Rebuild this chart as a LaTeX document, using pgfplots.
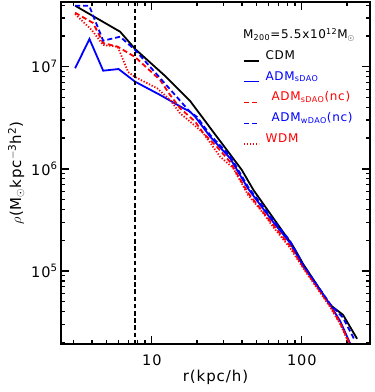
\documentclass[border=0pt]{standalone}
\usepackage{fontspec}
\setmainfont{DejaVu Sans}[LetterSpace=6]
\usepackage{pgfplots}
\pgfplotsset{compat=1.18}
\usetikzlibrary{calc}

\begin{document}
\begin{tikzpicture}
\begin{axis}[
    scale only axis,
    width=309pt, height=342pt,
    xmode=log, ymode=log,
    xmin=2.48, xmax=285,
    ymin=1.93e4, ymax=4.3e7,
    xtick={10,100}, xticklabels={10,100},
    minor xtick={3,4,5,6,7,8,9,20,30,40,50,60,70,80,90,200},
    ytick={1e5,1e6,1e7},
    yticklabels={10\textsuperscript{5},10\textsuperscript{6},10\textsuperscript{7}},
    minor ytick={2e4,3e4,4e4,5e4,6e4,7e4,8e4,9e4,2e5,3e5,4e5,5e5,6e5,7e5,8e5,9e5,2e6,3e6,4e6,5e6,6e6,7e6,8e6,9e6,2e7,3e7,4e7},
    tick align=inside,
    major tick length=8pt, minor tick length=4pt,
    tick style={black, line width=1.3pt},
    tick label style={font=\fontsize{14.5}{16}\selectfont},
    xticklabel style={yshift=-7pt},
    xlabel={r(kpc/h)},
    ylabel={$\rho$(M\textsubscript{$\odot$}kpc\textsuperscript{$-$3}h\textsuperscript{2})},
    label style={font=\fontsize{15}{17}\selectfont},
    xlabel style={yshift=2pt},
    legend cell align=left,
    legend image code/.code={\draw[#1, line width=1.3pt] (0pt,-4.5pt) -- (15pt,-4.5pt);},
    legend style={at={(rel axis cs:0.589,0.862)}, anchor=north west,
        draw=none, fill=none, inner sep=0pt,
        font=\fontsize{12}{14}\selectfont, row sep=6.8pt,
        nodes={inner sep=1pt, text height=9pt, text depth=3pt},
        /tikz/every odd column/.append style={column sep=5pt}},
]
% data (r in kpc/h, rho in Msun kpc^-3 h^2)
\addplot[black, line width=1.8pt] coordinates {
    (3.08,3.954e7) (6.15,2.200e7) (7.74,1.490e7) (12.27,8.11e6) (18.0,4.62e6)
    (25.12,2.40e6) (39.81,9.76e5) (47.57,6.22e5) (87.90,1.733e5) (102.0,1.174e5)
    (154.4,4.66e4) (188.5,3.72e4) (233.7,2.17e4)
};
\addlegendentry{CDM}
\addplot[blue, line width=1.8pt] coordinates {
    (3.08,9.65e6) (3.84,1.866e7) (4.74,9.14e6) (6.00,9.49e6) (7.74,7.13e6)
    (11.36,5.29e6) (16.24,3.92e6) (18.0,3.63e6) (19.45,3.24e6) (24.47,2.07e6)
    (33.27,1.270e6) (43.85,6.4e5) (64.38,3.02e5) (83.56,1.884e5) (102.0,1.122e5)
    (154.4,4.66e4) (180.0,3.25e4) (216.4,1.769e4)
};
\addlegendentry{\textcolor{blue}{ADM\textsubscript{sDAO}}}
\addplot[red, line width=1.8pt, dash pattern=on 5pt off 3pt] coordinates {
    (3.08,3.377e7) (4.06,2.677e7) (4.74,1.706e7) (5.92,1.570e7) (7.74,1.244e7)
    (11.36,7.41e6) (13.24,5.29e6) (15.44,3.92e6) (19.45,2.90e6) (21.98,2.25e6)
    (27.13,1.649e6) (33.27,1.168e6) (43.85,5.81e5) (64.38,2.83e5) (83.56,1.760e5)
    (102.0,1.096e5) (154.4,4.56e4) (180.0,3.11e4) (209.9,1.892e4)
};
\addlegendentry{\textcolor{red}{\hspace{6pt}ADM\textsubscript{sDAO}(nc)}}
\addplot[blue, line width=1.8pt, dash pattern=on 5pt off 3pt] coordinates {
    (3.08,3.954e7) (3.82,3.954e7) (4.74,1.797e7) (6.15,1.966e7) (7.74,1.457e7)
    (11.36,7.74e6) (18.0,3.60e6) (20.04,3.22e6) (24.47,2.15e6) (33.27,1.337e6)
    (43.85,6.65e5) (64.38,3.16e5) (83.56,1.970e5) (102.0,1.147e5) (154.4,4.77e4)
    (188.5,3.48e4) (226.6,2.07e4)
};
\addlegendentry{\textcolor{blue}{\hspace{6pt}ADM\textsubscript{wDAO}(nc)}}
\addplot[red, line width=1.8pt, dash pattern=on 1.3pt off 1.7pt] coordinates {
    (3.08,3.280e7) (3.98,2.28e7) (4.74,1.631e7) (5.92,1.570e7) (6.95,8.87e6)
    (7.74,7.93e6) (10.85,6.15e6) (13.24,4.72e6) (15.44,3.50e6) (18.0,2.90e6)
    (21.98,2.25e6) (28.53,1.317e6) (34.83,1.021e6) (43.85,5.55e5) (55.21,3.70e5)
    (64.38,2.70e5) (83.56,1.683e5) (102.0,1.072e5) (154.4,4.45e4) (180.0,3.04e4)
    (209.9,1.850e4)
};
\addlegendentry{\textcolor{red}{WDM}}
\addplot[black, line width=1.6pt, dash pattern=on 4.5pt off 2.7pt, forget plot]
    coordinates {(7.75,1e4) (7.75,1e8)};
\node[anchor=west, inner sep=0pt, font=\fontsize{12}{14}\selectfont]
    at (rel axis cs:0.589,0.9035)
    {M\textsubscript{200}=5.5x10\textsuperscript{12}M\textsubscript{$\odot$}};
\coordinate (bl) at (rel axis cs:0,0);
\coordinate (tr) at (rel axis cs:1,1);
\end{axis}
% heavier frame, as in the reference
\draw[line width=2pt] (bl) rectangle (tr);
\pgfresetboundingbox
\path[use as bounding box] ($(bl)+(-61pt,-48pt)$) rectangle ($(tr)+(4pt,2pt)$);
\end{tikzpicture}
\end{document}
